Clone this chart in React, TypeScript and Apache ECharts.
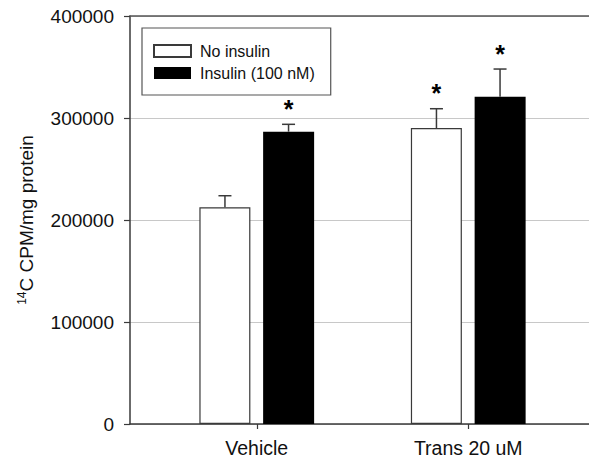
import React, { useEffect, useRef } from "react";
import * as echarts from "echarts";

const categories = ["Vehicle", "Trans 20 uM"];
const seriesNames = ["No insulin", "Insulin (100 nM)"];
const noInsulin = [212500, 290200];
const noInsulinErrTop = [223800, 309100];
const noInsulinSig = [false, true];
const insulin = [286600, 320900];
const insulinErrTop = [293800, 348000];
const insulinSig = [true, true];
const yTicks = { min: 0, max: 400000, interval: 100000 };

const FONT = "'Liberation Sans', Arial, Helvetica, sans-serif";
const AXIS = "#3a3a3a";
const BAR_W = 51;
const HALF_STEP = 31.8;

function errorItem(offset: number) {
  return (params: any, api: any) => {
    const i = api.value(0);
    const mean = api.value(1);
    const top = api.value(2);
    const sig = api.value(3);
    const pMean = api.coord([i, mean]);
    const pTop = api.coord([i, top]);
    const x = pMean[0] + offset;
    const children: any[] = [
      { type: "line", shape: { x1: x, y1: pMean[1], x2: x, y2: pTop[1] }, style: { stroke: AXIS, lineWidth: 1.5 } },
      { type: "line", shape: { x1: x - 6.5, y1: pTop[1], x2: x + 6.5, y2: pTop[1] }, style: { stroke: AXIS, lineWidth: 1.5 } },
    ];
    if (sig) {
      children.push({
        type: "text",
        x: x,
        y: pTop[1] - 28,
        style: { text: "*", fontSize: 25, fontWeight: "bold", fontFamily: FONT, fill: "#000", align: "center", verticalAlign: "top" },
      });
    }
    return { type: "group", children };
  };
}

export default function App() {
  const ref = useRef<HTMLDivElement>(null);
  useEffect(() => {
    if (!ref.current) return;
    const chart = echarts.init(ref.current, undefined, { renderer: "svg" });
    const errData = (means: number[], tops: number[], sig: boolean[]) =>
      means.map((m, i) => [i, m, tops[i], sig[i] ? 1 : 0]);
    chart.setOption({
      animation: false,
      textStyle: { fontFamily: FONT },
      grid: [
        { left: 130, right: -8, top: 16, bottom: 37 },
        { left: 151, right: 15, top: 16, bottom: 37 },
      ],
      legend: {
        data: seriesNames,
        orient: "vertical",
        left: 142,
        top: 28,
        padding: [15, 16, 14, 11],
        itemWidth: 37,
        itemHeight: 12,
        itemGap: 6,
        icon: "rect",
        borderColor: "#555",
        borderWidth: 1.2,
        textStyle: { fontSize: 16, color: "#111", fontFamily: FONT, padding: [0, 0, 0, 4] },
      },
      xAxis: [
        {
          gridIndex: 0, type: "category", data: [""], boundaryGap: false, position: "bottom",
          axisLine: { show: true, onZero: false, lineStyle: { color: AXIS, width: 1.5 } },
          axisTick: { show: false }, axisLabel: { show: false }, splitLine: { show: false },
        },
        {
          gridIndex: 0, type: "category", data: [""], boundaryGap: false, position: "top",
          axisLine: { show: true, onZero: false, lineStyle: { color: "#555", width: 1.5 } },
          axisTick: { show: false }, axisLabel: { show: false }, splitLine: { show: false },
        },
        {
          gridIndex: 1, type: "category", data: categories, position: "bottom",
          axisLine: { show: false },
          axisTick: { show: true, alignWithLabel: true, length: 5, lineStyle: { color: AXIS, width: 1.2 } },
          axisLabel: { fontSize: 19.5, color: "#111", margin: 14, fontFamily: FONT },
          splitLine: { show: false },
        },
      ],
      yAxis: [
        {
          gridIndex: 0, type: "value", min: yTicks.min, max: yTicks.max, interval: yTicks.interval,
          name: "{sup|14}{main|C CPM/mg protein}",
          nameLocation: "middle",
          nameGap: 94,
          nameRotate: 90,
          nameTextStyle: {
            fontSize: 19, color: "#111", fontFamily: FONT,
            rich: {
              sup: { fontSize: 12, verticalAlign: "top", fontFamily: FONT, color: "#111", padding: [0, 0, 8, 0] },
              main: { fontSize: 19, fontFamily: FONT, color: "#111" },
            },
          },
          axisLine: { show: true, onZero: false, lineStyle: { color: AXIS, width: 1.5 } },
          axisTick: { show: true, inside: false, length: 6, lineStyle: { color: AXIS, width: 1.2 } },
          axisLabel: { fontSize: 19, color: "#111", margin: 16, fontFamily: FONT, formatter: (v: number) => String(v) },
          splitLine: { show: true, lineStyle: { color: "#c8c8c8", width: 1 } },
        },
        {
          gridIndex: 1, type: "value", min: yTicks.min, max: yTicks.max,
          show: false, splitLine: { show: false },
        },
      ],
      series: [
        {
          name: seriesNames[0], type: "bar", xAxisIndex: 2, yAxisIndex: 1,
          data: noInsulin, barWidth: BAR_W, barGap: "25%",
          itemStyle: { color: "#ffffff", borderColor: AXIS, borderWidth: 1.2 },
        },
        {
          name: seriesNames[1], type: "bar", xAxisIndex: 2, yAxisIndex: 1,
          data: insulin, barWidth: BAR_W, barGap: "25%",
          itemStyle: { color: "#000000", borderColor: "#000", borderWidth: 0 },
        },
        {
          type: "custom", xAxisIndex: 2, yAxisIndex: 1, z: 5,
          renderItem: errorItem(-HALF_STEP),
          data: errData(noInsulin, noInsulinErrTop, noInsulinSig),
        },
        {
          type: "custom", xAxisIndex: 2, yAxisIndex: 1, z: 5,
          renderItem: errorItem(HALF_STEP),
          data: errData(insulin, insulinErrTop, insulinSig),
        },
      ],
    });
    return () => chart.dispose();
  }, []);
  return <div ref={ref} style={{ position: "fixed", left: 0, top: 0, width: 589, height: 461, background: "#fff" }} />;
}
